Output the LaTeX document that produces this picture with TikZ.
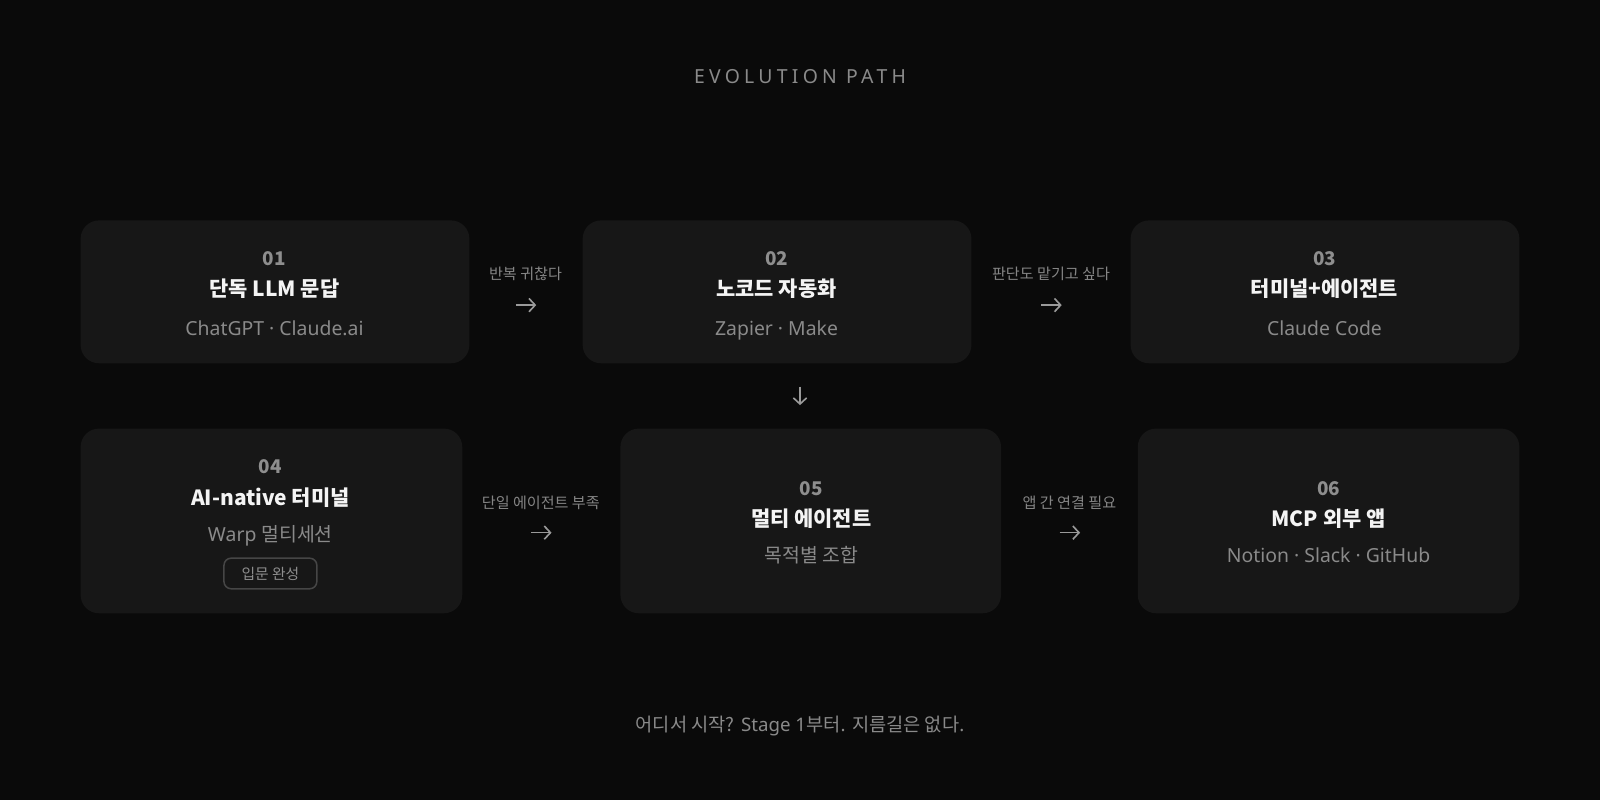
\documentclass[tikz,border=0pt]{standalone}
\usepackage{fontspec}
\setmainfont{Noto Sans}
\newfontfamily\kr{Noto Sans CJK KR}
\newfontfamily\spacedfont[LetterSpace=22]{Noto Sans}
\usetikzlibrary{arrows.meta}
\definecolor{bgc}{HTML}{0A0A0A}
\definecolor{cardc}{HTML}{171717}
\definecolor{numc}{HTML}{8E8E8E}
\definecolor{titc}{HTML}{F4F4F4}
\definecolor{subc}{HTML}{8A8A8A}
\definecolor{lblc}{HTML}{858585}
\definecolor{arrc}{HTML}{9A9A9A}
\definecolor{badgec}{HTML}{464646}
\tikzset{
  card/.style={fill=cardc, rounded corners=18pt, inner sep=0pt},
  numtxt/.style={anchor=base, inner sep=0pt, text=numc, font=\kr\fontsize{18.5}{20}\selectfont\bfseries},
  tittxt/.style={anchor=base, inner sep=0pt, text=titc, font=\kr\fontsize{20.5}{23}\selectfont\bfseries},
  subtxt/.style={anchor=base, inner sep=0pt, text=subc, font=\fontsize{19}{21}\selectfont},
  lbltxt/.style={anchor=base, inner sep=0pt, text=lblc, font=\kr\fontsize{14.8}{16}\selectfont},
  flow/.style={draw=arrc, line width=1.6pt, -{Straight Barb[length=6pt,width=13pt,line width=1.6pt]}},
  badge/.style={draw=badgec, line width=1.5pt, rounded corners=7pt, minimum width=91pt, minimum height=30pt, inner sep=0pt, text=numc, font=\kr\fontsize{14.5}{16}\selectfont},
}
\begin{document}
\begin{tikzpicture}[x=1pt,y=-1pt]
\fill[bgc] (0,0) rectangle (1568,784);
\useasboundingbox (0,0) rectangle (1568,784);

% title
\node[anchor=base, inner sep=0pt, text=subc, font=\spacedfont\fontsize{19}{22}\selectfont] (title) at (784,82) {EVOLUTION PATH};

% cards row 1
\node[card, minimum width=381pt, minimum height=140pt] (b1) at (269.5,286) {};
\node[card, minimum width=381pt, minimum height=140pt] (b2) at (761.5,286) {};
\node[card, minimum width=381pt, minimum height=140pt] (b3) at (1298.5,286) {};
% cards row 2
\node[card, minimum width=374pt, minimum height=181pt] (b4) at (266,510.5) {};
\node[card, minimum width=373pt, minimum height=181pt] (b5) at (794.5,510.5) {};
\node[card, minimum width=374pt, minimum height=181pt] (b6) at (1302,510.5) {};

% card 01
\node[numtxt] (n1) at (269,260.5) {01};
\node[tittxt] (t1) at (269,291) {단독 LLM 문답};
\node[subtxt] (s1) at (269,328.5) {ChatGPT · Claude.ai};
% card 02
\node[numtxt] (n2) at (761,260.5) {02};
\node[tittxt] (t2) at (761,291) {노코드 자동화};
\node[subtxt] (s2) at (761,328.5) {Zapier · Make};
% card 03
\node[numtxt] (n3) at (1298,260.5) {03};
\node[tittxt] (t3) at (1298,291) {터미널+에이전트};
\node[subtxt] (s3) at (1298,328.5) {Claude Code};
% card 04
\node[numtxt] (n4) at (265,464.5) {04};
\node[tittxt] (t4) at (265,495) {AI-native 터미널};
\node[subtxt] (s4) at (265,530.5) {Warp {\kr 멀티세션}};
\node[badge] (bd4) at (265,562) {입문 완성};
% card 05
\node[numtxt] (n5) at (795,485.5) {05};
\node[tittxt] (t5) at (795,516) {멀티 에이전트};
\node[subtxt] (s5) at (795,551.5) {\kr 목적별 조합};
% card 06
\node[numtxt] (n6) at (1302,485.5) {06};
\node[tittxt] (t6) at (1302,516) {MCP 외부 앱};
\node[subtxt] (s6) at (1302,551.5) {Notion · Slack · GitHub};

% connector labels
\node[lbltxt] (l12) at (515,274) {반복 귀찮다};
\node[lbltxt] (l23) at (1030,274) {판단도 맡기고 싶다};
\node[lbltxt] (l45) at (530,498) {단일 에이전트 부족};
\node[lbltxt] (l56) at (1048,498) {앱 간 연결 필요};

% connector end points
\coordinate (a12s) at (505.5,299); \coordinate (a12e) at (525.5,299);
\coordinate (a23s) at (1020.5,299); \coordinate (a23e) at (1040.5,299);
\coordinate (a25s) at (784,379); \coordinate (a25e) at (784,397);
\coordinate (a45s) at (520.5,522); \coordinate (a45e) at (540.5,522);
\coordinate (a56s) at (1038.5,522); \coordinate (a56e) at (1058.5,522);

\draw[flow] (a12s) -- (a12e);
\draw[flow] (a23s) -- (a23e);
\draw[flow] (a25s) -- (a25e);
\draw[flow] (a45s) -- (a45e);
\draw[flow] (a56s) -- (a56e);

% footer
\node[anchor=base, inner sep=0pt, text=subc, font=\fontsize{18.3}{21}\selectfont] (foot) at (784,717) {{\kr 어디서 시작?} Stage 1{\kr 부터}. {\kr 지름길은 없다}.};
\end{tikzpicture}
\end{document}
